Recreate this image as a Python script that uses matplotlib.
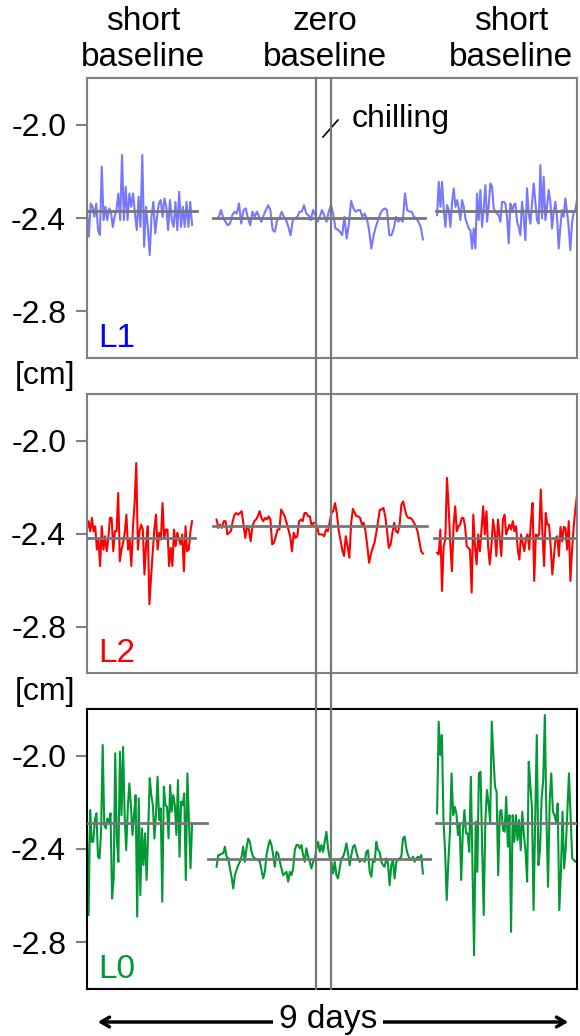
import numpy as np
import matplotlib.pyplot as plt
from matplotlib.lines import Line2D
from matplotlib.patches import FancyArrowPatch
from matplotlib.transforms import blended_transform_factory

plt.rcParams['font.family'] = ['Liberation Sans', 'DejaVu Sans']

# time spans of the three baselines (days)
seg_span = [(0.0, 1.93), (2.38, 6.17), (6.43, 9.0)]
chill_days = [4.215, 4.482]
yticks = [-2.0, -2.4, -2.8]

# ---- L1 [cm]
l1_short1 = [-2.366, -2.480, -2.338, -2.352, -2.395, -2.338, -2.452, -2.473, -2.180, -2.409,
             -2.352, -2.409, -2.359, -2.373, -2.438, -2.395, -2.366, -2.295, -2.409, -2.130,
             -2.409, -2.266, -2.409, -2.295, -2.352, -2.295, -2.380, -2.452, -2.309, -2.438,
             -2.130, -2.523, -2.352, -2.438, -2.559, -2.395, -2.331, -2.466, -2.395, -2.338,
             -2.323, -2.395, -2.316, -2.352, -2.452, -2.323, -2.409, -2.438, -2.331, -2.452,
             -2.288, -2.438, -2.352, -2.438, -2.331, -2.438, -2.331, -2.430]
l1_zero = [-2.402, -2.395, -2.366, -2.402, -2.416, -2.431, -2.424, -2.388, -2.373, -2.381,
           -2.338, -2.424, -2.366, -2.359, -2.402, -2.431, -2.373, -2.395, -2.373, -2.395,
           -2.416, -2.388, -2.366, -2.345, -2.366, -2.452, -2.459, -2.409, -2.402, -2.373,
           -2.395, -2.409, -2.438, -2.474, -2.409, -2.402, -2.395, -2.373, -2.373, -2.345,
           -2.381, -2.388, -2.409, -2.366, -2.388, -2.416, -2.395, -2.366, -2.388, -2.416,
           -2.373, -2.345, -2.381, -2.445, -2.449, -2.459, -2.474, -2.395, -2.488, -2.424,
           -2.326, -2.359, -2.373, -2.366, -2.366, -2.395, -2.381, -2.402, -2.452, -2.531,
           -2.474, -2.438, -2.409, -2.381, -2.366, -2.359, -2.366, -2.474, -2.474, -2.445,
           -2.395, -2.416, -2.402, -2.416, -2.295, -2.366, -2.373, -2.373, -2.395, -2.402,
           -2.416, -2.438, -2.492]
l1_short2 = [-2.388, -2.245, -2.352, -2.245, -2.366, -2.438, -2.345, -2.366, -2.438, -2.331,
             -2.273, -2.352, -2.323, -2.359, -2.409, -2.323, -2.352, -2.402, -2.424, -2.445,
             -2.452, -2.531, -2.445, -2.531, -2.295, -2.409, -2.280, -2.438, -2.359, -2.259,
             -2.416, -2.345, -2.252, -2.266, -2.359, -2.373, -2.381, -2.388, -2.416, -2.331,
             -2.331, -2.338, -2.395, -2.509, -2.338, -2.373, -2.345, -2.338, -2.416, -2.438,
             -2.474, -2.331, -2.395, -2.495, -2.273, -2.381, -2.424, -2.338, -2.252, -2.331,
             -2.409, -2.424, -2.173, -2.402, -2.223, -2.409, -2.352, -2.280, -2.331, -2.445,
             -2.373, -2.331, -2.395, -2.531, -2.438, -2.366, -2.395, -2.316, -2.373, -2.438,
             -2.538, -2.424, -2.373, -2.366, -2.323]
l1_means = [-2.370, -2.400, -2.370]
l1_mean_span = [(0.0, 2.02), (2.31, 6.21), (6.41, 9.0)]

# ---- L2 [cm]
l2_short1 = [-2.383, -2.347, -2.390, -2.333, -2.390, -2.369, -2.469, -2.426, -2.540, -2.369,
             -2.469, -2.412, -2.476, -2.419, -2.333, -2.333, -2.476, -2.390, -2.390, -2.226,
             -2.519, -2.469, -2.440, -2.397, -2.319, -2.469, -2.426, -2.540, -2.369, -2.269,
             -2.097, -2.469, -2.390, -2.362, -2.383, -2.576, -2.447, -2.369, -2.704, -2.590,
             -2.483, -2.383, -2.319, -2.469, -2.397, -2.426, -2.269, -2.419, -2.383, -2.383,
             -2.540, -2.462, -2.540, -2.383, -2.454, -2.397, -2.426, -2.447, -2.404, -2.562,
             -2.369, -2.476, -2.469, -2.390, -2.347]
l2_zero = [-2.340, -2.376, -2.362, -2.376, -2.347, -2.347, -2.404, -2.397, -2.390, -2.347,
           -2.319, -2.312, -2.319, -2.312, -2.304, -2.362, -2.419, -2.369, -2.383, -2.433,
           -2.369, -2.347, -2.340, -2.326, -2.304, -2.333, -2.347, -2.333, -2.340, -2.326,
           -2.340, -2.447, -2.440, -2.412, -2.383, -2.383, -2.297, -2.312, -2.326, -2.354,
           -2.383, -2.412, -2.476, -2.397, -2.419, -2.412, -2.347, -2.340, -2.347, -2.312,
           -2.312, -2.326, -2.326, -2.369, -2.354, -2.354, -2.369, -2.404, -2.404, -2.404,
           -2.412, -2.383, -2.390, -2.354, -2.312, -2.304, -2.269, -2.312, -2.383, -2.426,
           -2.469, -2.497, -2.412, -2.454, -2.504, -2.354, -2.294, -2.312, -2.326, -2.326,
           -2.333, -2.362, -2.354, -2.390, -2.454, -2.526, -2.490, -2.462, -2.440, -2.397,
           -2.347, -2.297, -2.297, -2.290, -2.326, -2.390, -2.462, -2.447, -2.397, -2.354,
           -2.390, -2.397, -2.362, -2.276, -2.262, -2.297, -2.326, -2.333, -2.333, -2.340,
           -2.354, -2.369, -2.390, -2.433, -2.476, -2.486]
l2_short2 = [-2.483, -2.490, -2.383, -2.647, -2.454, -2.426, -2.161, -2.283, -2.440, -2.562,
             -2.369, -2.283, -2.390, -2.369, -2.362, -2.333, -2.333, -2.369, -2.454, -2.462,
             -2.469, -2.654, -2.319, -2.454, -2.533, -2.404, -2.476, -2.383, -2.283, -2.404,
             -2.304, -2.454, -2.533, -2.454, -2.340, -2.390, -2.497, -2.340, -2.412, -2.497,
             -2.340, -2.319, -2.404, -2.383, -2.362, -2.383, -2.347, -2.390, -2.369, -2.469,
             -2.512, -2.404, -2.440, -2.476, -2.419, -2.404, -2.469, -2.347, -2.269, -2.604,
             -2.404, -2.412, -2.404, -2.211, -2.397, -2.540, -2.312, -2.362, -2.362, -2.454,
             -2.576, -2.497, -2.419, -2.412, -2.497, -2.372, -2.433, -2.372, -2.376, -2.469,
             -2.347, -2.604, -2.469, -2.369, -2.297, -2.233]
l2_means = [-2.419, -2.367, -2.419]
l2_mean_span = [(0.0, 1.98), (2.31, 6.25), (6.37, 9.0)]

# ---- L0 [cm]
l0_short1 = [-2.326, -2.683, -2.233, -2.369, -2.369, -2.276, -2.247, -2.433, -2.440, -2.319,
             -1.954, -2.297, -2.312, -2.269, -2.290, -2.247, -2.612, -2.526, -1.990, -2.355,
             -2.455, -1.983, -2.255, -1.962, -2.255, -2.405, -2.226, -2.119, -2.212, -2.340,
             -2.255, -2.169, -2.690, -2.183, -2.598, -2.312, -2.469, -2.333, -2.533, -2.326,
             -2.097, -2.169, -2.212, -2.355, -2.247, -2.090, -2.276, -2.226, -2.626, -2.133,
             -2.212, -2.219, -2.355, -2.126, -2.240, -2.169, -2.212, -2.340, -2.105, -2.433,
             -2.197, -2.212, -2.162, -2.533, -2.076, -2.276, -2.483, -2.290]
l0_zero = [-2.476, -2.426, -2.426, -2.419, -2.419, -2.390, -2.433, -2.440, -2.483, -2.519,
           -2.569, -2.512, -2.490, -2.469, -2.455, -2.433, -2.390, -2.455, -2.397, -2.355,
           -2.369, -2.412, -2.433, -2.440, -2.447, -2.447, -2.455, -2.490, -2.526, -2.498,
           -2.426, -2.390, -2.362, -2.383, -2.426, -2.476, -2.412, -2.419, -2.455, -2.483,
           -2.512, -2.505, -2.498, -2.540, -2.498, -2.512, -2.483, -2.405, -2.383, -2.383,
           -2.397, -2.383, -2.426, -2.455, -2.397, -2.433, -2.455, -2.483, -2.455, -2.447,
           -2.397, -2.369, -2.412, -2.383, -2.412, -2.369, -2.326, -2.397, -2.440, -2.455,
           -2.505, -2.455, -2.512, -2.526, -2.483, -2.440, -2.433, -2.412, -2.376, -2.419,
           -2.469, -2.426, -2.390, -2.383, -2.412, -2.440, -2.455, -2.447, -2.447, -2.455,
           -2.412, -2.405, -2.498, -2.519, -2.447, -2.455, -2.369, -2.405, -2.412, -2.455,
           -2.469, -2.476, -2.440, -2.462, -2.555, -2.469, -2.447, -2.526, -2.455, -2.447,
           -2.440, -2.433, -2.355, -2.347, -2.397, -2.426, -2.440, -2.447, -2.433, -2.455,
           -2.440, -2.433, -2.440, -2.426, -2.505]
l0_short2 = [-2.247, -1.854, -1.997, -1.912, -2.283, -2.412, -2.619, -2.455, -2.326, -2.076,
             -2.255, -2.219, -2.247, -2.340, -2.290, -2.533, -2.326, -2.233, -2.333, -2.333,
             -2.412, -2.090, -2.469, -2.855, -2.283, -2.498, -2.076, -2.069, -2.383, -2.683,
             -2.283, -2.147, -2.205, -2.283, -1.854, -1.997, -2.133, -2.155, -2.512, -2.240,
             -2.233, -2.319, -2.326, -2.176, -2.390, -2.255, -2.755, -2.255, -2.369, -2.255,
             -2.362, -2.276, -2.405, -2.240, -2.340, -2.412, -2.540, -2.026, -2.126, -2.226,
             -2.662, -2.276, -1.912, -2.469, -2.405, -2.183, -2.105, -1.826, -2.269, -2.562,
             -2.197, -2.076, -2.240, -2.255, -2.283, -2.205, -2.662, -2.498, -2.240, -2.483,
             -2.397, -2.240, -2.076, -2.255, -2.440, -2.447, -2.455, -2.447]
l0_means = [-2.290, -2.443, -2.290]
l0_mean_span = [(0.0, 2.20), (2.22, 6.30), (6.41, 9.0)]

panels = [
    ("L1", [l1_short1, l1_zero, l1_short2], l1_means, l1_mean_span, "#7777ff", "#0000ff", "#808080"),
    ("L2", [l2_short1, l2_zero, l2_short2], l2_means, l2_mean_span, "#ff0000", "#ff0000", "#808080"),
    ("L0", [l0_short1, l0_zero, l0_short2], l0_means, l0_mean_span, "#009933", "#009933", "#000000"),
]

W, H = 580, 1036
fig = plt.figure(figsize=(W / 100, H / 100), dpi=100)

# axes boxes in pixels: (top, bottom)
boxes = [(78, 358), (394, 673), (709, 989)]
left_px, right_px = 87, 577

axes = []
for (name, segs, means, mspan, col, lcol, scol), (top, bot) in zip(panels, boxes):
    ax = fig.add_axes([left_px / W, 1 - bot / H, (right_px - left_px) / W, (bot - top) / H])
    for (t0, t1), vals in zip(seg_span, segs):
        x = np.linspace(t0, t1, len(vals))
        ax.plot(x, vals, color=col, lw=1.5, zorder=2)
    for m, (a, b) in zip(means, mspan):
        ax.plot([a, b], [m, m], color="#777777", lw=2, zorder=3)
    ax.set_xlim(0, 9)
    ax.set_ylim(-3.0, -1.8)
    ax.set_yticks(yticks)
    ax.set_yticklabels(["%.1f" % v for v in yticks])
    ax.set_xticks([])
    ax.tick_params(axis="y", length=8, width=1.5, color="#808080", pad=7, labelsize=23)
    for s in ax.spines.values():
        s.set_color(scol)
        s.set_linewidth(1.5)
    ax.text(0.022, 0.04, name, transform=ax.transAxes, color=lcol, fontsize=24,
            ha="left", va="baseline")
    axes.append(ax)

# chilling period lines through all panels
tr = blended_transform_factory(axes[0].transData, fig.transFigure)
for d in chill_days:
    fig.add_artist(Line2D([d, d], [1 - 989 / H, 1 - 78 / H], transform=tr,
                          color="#777777", lw=1.6, zorder=5))

# header labels
heads = [("short", "baseline", 143), ("zero", "baseline", 325), ("short", "baseline", 511)]
for a, b, xc in heads:
    fig.text(xc / W, 1 - 30 / H, a, ha="center", va="baseline", fontsize=24)
    fig.text(xc / W, 1 - 66 / H, b, ha="center", va="baseline", fontsize=24)

fig.text(352 / W, 1 - 127 / H, "chilling", ha="left", va="baseline", fontsize=23)
fig.add_artist(Line2D([323 / W, 338 / W], [1 - 137 / H, 1 - 120 / H],
                      transform=fig.transFigure, color="black", lw=1.2))

for yc in (376, 692):
    fig.text(15 / W, 1 - yc / H, "[cm]", ha="left", va="center", fontsize=23)

# 9 days arrow
fig.add_artist(FancyArrowPatch(
    (95 / W, 1 - 1022 / H), (571 / W, 1 - 1022 / H), transform=fig.transFigure,
    arrowstyle="<->,head_length=6,head_width=3.5", color="black", lw=2.5))
fig.text(328 / W, 1 - 1028 / H, "9 days", ha="center", va="baseline", fontsize=24,
         bbox=dict(facecolor="white", edgecolor="none", pad=4))

fig.savefig("out.png", dpi=100)
